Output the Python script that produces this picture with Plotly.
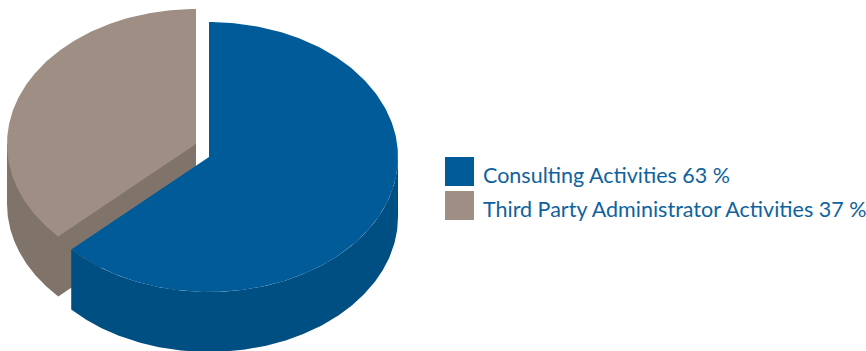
import numpy as np
import plotly.graph_objects as go

# Share of activities
categories = ["Consulting Activities", "Third Party Administrator Activities"]
shares = [63, 37]

top_colors = ["#005B98", "#9E8E84"]
side_colors = ["#004F82", "#80736A"]
text_color = "#0F629C"

# Extruded pie geometry, in screen pixels
RX, RY, DEPTH = 189, 135, 60
centers = [(209, 157), (196, 144)]


def rim(cx, cy, start, end, drop=0.0):
    """Points along the ellipse rim; angles run clockwise from 12 o'clock."""
    t = np.radians(np.linspace(start, end, 240))
    return cx + RX * np.sin(t), cy - RY * np.cos(t) + drop


def add_poly(fig, x, y, color, name):
    fig.add_trace(go.Scatter(
        x=x, y=y, mode="lines", fill="toself", fillcolor=color,
        line=dict(width=0, color=color), name=name,
        hoverinfo="name", showlegend=False,
    ))


fig = go.Figure()

split = shares[0] / sum(shares) * 360

# Walls run on underneath the top faces so no seam shows along the rim.
# Third party slice: wall first, then its top face
cx, cy = centers[1]
bx, by = rim(cx, cy, split, 270, DEPTH)
edge_x, edge_y = rim(cx, cy, 270, 270)
wall_x = np.r_[cx, edge_x[0], bx[::-1], cx, cx]
wall_y = np.r_[cy, edge_y[0], by[::-1], cy + DEPTH, cy]
add_poly(fig, wall_x, wall_y, side_colors[1], categories[1])
tx, ty = rim(cx, cy, split, 360)
add_poly(fig, np.r_[cx, tx, cx], np.r_[cy, ty, cy], top_colors[1], categories[1])

# Consulting slice drawn in front of it
cx, cy = centers[0]
ax, ay = rim(cx, cy, 90, split)
bx, by = rim(cx, cy, 90, split, DEPTH)
wall_x = np.r_[cx, ax, bx[::-1], ax[0], cx]
wall_y = np.r_[cy, ay, by[::-1], ay[0], cy]
add_poly(fig, wall_x, wall_y, side_colors[0], categories[0])
tx, ty = rim(cx, cy, 0, split)
add_poly(fig, np.r_[cx, tx, cx], np.r_[cy, ty, cy], top_colors[0], categories[0])

# Legend: swatch plus label with the share
KEY_X, KEY_SIZE, LABEL_X = 445, 29, 481
KEY_TOPS = [157, 191]
shapes = []
annotations = []
for name, share, color, top in zip(categories, shares, top_colors, KEY_TOPS):
    shapes.append(dict(
        type="rect", xref="x", yref="y", x0=KEY_X, x1=KEY_X + KEY_SIZE,
        y0=top, y1=top + KEY_SIZE, fillcolor=color, line_width=0, layer="above",
    ))
    annotations.append(dict(
        x=LABEL_X, y=top + 18, xref="x", yref="y", xanchor="left", yanchor="middle",
        text=f"{name} {share} %", showarrow=False, align="left",
        font=dict(family="Lato", size=21.5, color=text_color),
    ))

fig.update_layout(
    width=866, height=351,
    margin=dict(l=0, r=0, t=0, b=0),
    paper_bgcolor="white", plot_bgcolor="white",
    xaxis=dict(range=[0, 866], visible=False, fixedrange=True),
    yaxis=dict(range=[351, 0], visible=False, fixedrange=True),
    shapes=shapes, annotations=annotations,
)

fig.write_html("out.html", config={"displayModeBar": False})
